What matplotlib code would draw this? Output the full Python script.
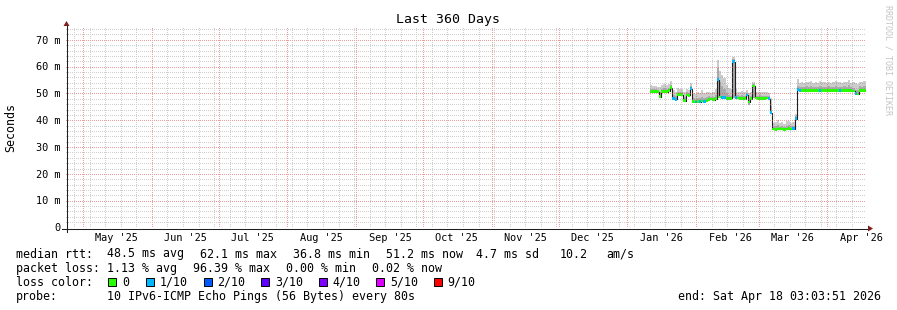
import numpy as np
import pandas as pd
import matplotlib
matplotlib.use("Agg")
import matplotlib.pyplot as plt
import matplotlib.dates as mdates
import matplotlib.transforms as mtrans
from matplotlib.lines import Line2D
from matplotlib.patches import Polygon, Rectangle

# ---------------- data ----------------
title = "Last 360 Days"
y_label = "Seconds"
watermark = "RRDTOOL / TOBI OETIKER"
end_time = pd.Timestamp("2026-04-18 03:03:51")
span_days = 360
first_day = pd.Timestamp("2026-01-11")

# daily median RTT (ms), Jan 11 .. Apr 17 2026
median_ms = [
    51.0, 51.0, 50.9, 50.8, 49.0, 50.9, 51.0, 50.9, 51.2, 52.3,
    48.4, 48.0, 49.8, 49.9, 49.7, 47.5, 49.6, 49.5, 52.0, 47.2,
    47.0, 47.3, 47.1, 47.4, 47.2, 47.6, 48.0, 48.1, 47.9, 48.2,
    55.3, 48.9, 48.6, 48.7, 48.3, 48.2, 48.4, 62.1, 48.6, 48.5,
    48.4, 48.4, 48.3, 49.6, 47.0, 48.3, 53.0, 48.5, 48.4, 48.4,
    48.3, 48.4, 48.5, 48.2, 43.0, 36.9, 36.8, 36.9, 37.0, 36.9,
    36.8, 36.9, 37.0, 36.9, 37.0, 40.8, 51.6, 51.4, 51.3, 51.4,
    51.3, 51.2, 51.3, 51.4, 51.3, 51.2, 51.3, 51.4, 51.3, 51.3,
    51.2, 51.3, 51.4, 51.3, 51.3, 51.2, 51.3, 51.4, 51.3, 51.2,
    51.3, 51.1, 50.2, 50.0, 51.3, 51.3, 51.2,
]
# highest ping of the day (outer smoke)
rtt_max = [
    53.2, 53.0, 52.8, 52.6, 52.5, 53.3, 53.6, 53.2, 53.8, 55.0,
    51.5, 50.8, 52.2, 52.0, 51.8, 50.6, 52.0, 51.6, 54.0, 50.2,
    50.0, 50.6, 50.4, 51.4, 50.3, 50.8, 50.9, 50.5, 50.7, 52.0,
    62.6, 58.5, 57.2, 56.0, 53.4, 52.2, 51.8, 63.8, 52.0, 50.9,
    50.8, 51.0, 50.7, 51.5, 50.3, 50.6, 54.3, 50.8, 50.6, 50.9,
    50.7, 50.8, 50.6, 50.4, 48.5, 39.2, 39.6, 40.1, 39.0, 39.4,
    38.8, 39.8, 40.0, 39.3, 39.5, 42.5, 55.6, 54.2, 54.5, 54.0,
    54.6, 54.3, 54.8, 54.1, 54.4, 54.2, 54.7, 54.3, 54.5, 54.0,
    54.6, 54.2, 54.4, 54.9, 54.3, 54.5, 54.1, 54.6, 54.3, 55.3,
    54.2, 54.5, 54.1, 53.8, 54.6, 54.4, 54.8,
]
# upper inner ping (darker smoke)
rtt_upper = [
    52.0, 51.9, 51.8, 51.5, 50.6, 51.9, 52.1, 52.0, 52.3, 53.4,
    49.6, 49.2, 50.8, 50.9, 50.6, 48.8, 50.6, 50.4, 52.9, 48.4,
    48.2, 48.6, 48.4, 49.0, 48.4, 48.8, 49.1, 49.0, 48.9, 49.6,
    59.5, 54.5, 53.0, 52.0, 50.2, 49.6, 49.4, 63.0, 50.0, 49.5,
    49.4, 49.6, 49.3, 50.4, 48.4, 49.2, 53.6, 49.4, 49.3, 49.5,
    49.3, 49.4, 49.3, 49.1, 45.5, 37.9, 38.1, 38.4, 37.8, 38.0,
    37.7, 38.2, 38.3, 37.9, 38.1, 41.6, 52.8, 52.6, 52.7, 52.5,
    52.8, 52.6, 52.9, 52.5, 52.7, 52.6, 52.8, 52.6, 52.7, 52.5,
    52.8, 52.6, 52.7, 52.9, 52.6, 52.7, 52.5, 52.8, 52.6, 53.2,
    52.6, 52.4, 51.6, 51.4, 52.8, 52.7, 52.8,
]
# lowest ping of the day
rtt_min = [
    50.6, 50.6, 50.5, 50.4, 48.6, 50.5, 50.6, 50.5, 50.8, 51.6,
    48.0, 47.6, 49.4, 49.5, 49.3, 47.0, 49.2, 49.1, 51.4, 46.8,
    46.6, 46.9, 46.7, 47.0, 46.8, 47.2, 47.6, 47.7, 47.5, 47.8,
    48.5, 48.4, 48.2, 48.3, 47.9, 47.8, 48.0, 48.5, 48.2, 48.1,
    48.0, 48.0, 47.9, 49.1, 45.9, 47.9, 48.6, 48.1, 48.0, 48.0,
    47.9, 48.0, 48.1, 47.8, 42.5, 36.5, 36.4, 36.5, 36.6, 36.5,
    36.4, 36.5, 36.6, 36.5, 36.6, 40.3, 51.2, 51.0, 50.9, 51.0,
    50.9, 50.8, 50.9, 51.0, 50.9, 50.8, 50.9, 51.0, 50.9, 50.9,
    50.8, 50.9, 51.0, 50.9, 50.9, 50.8, 50.9, 51.0, 50.9, 50.8,
    50.9, 50.7, 49.8, 49.6, 50.9, 50.9, 50.8,
]
# lost pings (of 10) per day -> loss colour index
lost_pings = [
    0, 0, 0, 0, 0, 0, 0, 0, 0, 0,
    1, 1, 0, 0, 0, 0, 0, 0, 1, 0,
    1, 0, 1, 0, 1, 0, 0, 0, 0, 0,
    1, 0, 1, 1, 0, 0, 0, 1, 1, 0,
    0, 0, 0, 1, 0, 0, 0, 0, 0, 0,
    0, 0, 0, 1, 1, 0, 0, 0, 0, 0,
    0, 0, 0, 0, 1, 1, 1, 1, 0, 0,
    0, 0, 0, 0, 0, 0, 1, 0, 0, 0,
    0, 0, 0, 0, 0, 1, 0, 0, 0, 0,
    0, 0, 1, 0, 0, 0, 0,
]

loss_labels = ["0", "1/10", "2/10", "3/10", "4/10", "5/10", "9/10"]
loss_colors = ["#26ff00", "#00b8ff", "#0059ff", "#5e00ff", "#7e00ff", "#dd00ff", "#ff0000"]

y_ticks = [0, 10, 20, 30, 40, 50, 60, 70]
y_tick_labels = ["0", "10 m", "20 m", "30 m", "40 m", "50 m", "60 m", "70 m"]
month_labels = ["May '25", "Jun '25", "Jul '25", "Aug '25", "Sep '25", "Oct '25",
                "Nov '25", "Dec '25", "Jan '26", "Feb '26", "Mar '26", "Apr '26"]

rtt_stats = ["48.5 ms avg", "62.1 ms max", "36.8 ms min", "51.2 ms now", "4.7 ms sd", "10.2", "am/s"]
loss_stats = ["1.13 % avg", "96.39 % max", "0.00 % min", "0.02 % now"]
probe_text = "10 IPv6-ICMP Echo Pings (56 Bytes) every 80s"
end_text = "end: Sat Apr 18 03:03:51 2026"

# ---------------- layout ----------------
W, H = 897, 310
MONO = "DejaVu Sans Mono"
X0, Y0, XS, YS = 66, 228, 800, 200   # plot origin & size in pixels
YMAX = 74.6

GRID_C = (0.56, 0.56, 0.56, 0.42)
MGRID_C = (0.87, 0.31, 0.31, 0.55)
AXIS_C = "#1f1f1f"
ARROW_C = "#801f1f"

def fx(px):
    return px / W

def fy(py):
    return 1 - py / H

fig = plt.figure(figsize=(W / 100, H / 100), dpi=100, facecolor="white")
ax = fig.add_axes([fx(X0), fy(Y0), XS / W, YS / H])
ax.set_facecolor("white")
for s in ax.spines.values():
    s.set_visible(False)

start_time = end_time - pd.Timedelta(days=span_days)
ax.set_xlim(mdates.date2num(start_time), mdates.date2num(end_time))
ax.set_ylim(0, YMAX)
ax.set_xticks([])
ax.set_yticks([])

# ---------------- data drawing ----------------
days = pd.date_range(first_day, periods=len(median_ms), freq="D")
xd = mdates.date2num(days)
med = np.array(median_ms)
mx = np.array(rtt_max)
up = np.array(rtt_upper)
mn = np.array(rtt_min)

ax.bar(xd, mx - mn, bottom=mn, width=1.0, align="edge", color="#cccccc",
       linewidth=0, antialiased=False, zorder=2)
ax.bar(xd, up - mn, bottom=mn, width=1.0, align="edge", color="#aaaaaa",
       linewidth=0, antialiased=False, zorder=2.1)

x_step = np.append(xd, xd[-1] + 1.0)
y_step = np.append(med, med[-1])
ax.plot(x_step, y_step, drawstyle="steps-post", color="#202020", lw=0.8, zorder=3)

band = 1.0
ax.bar(xd, band, bottom=med - band / 2, width=1.0, align="edge",
       color=[loss_colors[k] for k in lost_pings], linewidth=0,
       antialiased=False, zorder=4)

# ---------------- grid: pixel-exact 1-on/1-off dotted lines (rrdtool style) ----------------
sundays = mdates.date2num(pd.date_range(start_time.normalize(), end_time, freq="W-SUN"))
months = mdates.date2num(pd.date_range(start_time.normalize(), end_time, freq="MS"))
minor_y = np.arange(2, YMAX, 2)
major_y = np.array(y_ticks[1:], dtype=float)

grid_img = np.zeros((H, W, 4))
rows = np.arange(Y0 - YS, Y0)
cols = np.arange(X0, X0 + XS)

def col_of(xval):
    return int(np.floor(ax.transData.transform((xval, 0))[0]))

def row_of(yval):
    return int(np.floor(H - ax.transData.transform((0, yval))[1]))

def paint_v(c, color):
    rr = rows[rows % 2 == 0]
    grid_img[rr, c] = color

def paint_h(r, color):
    cc = cols[cols % 2 == 0]
    grid_img[r, cc] = color

for xv in sundays:
    c = col_of(xv)
    if X0 < c < X0 + XS:
        paint_v(c, GRID_C)
for yv in minor_y:
    paint_h(row_of(yv), GRID_C)
for xv in months:
    c = col_of(xv)
    if X0 < c < X0 + XS:
        paint_v(c, MGRID_C)
for yv in major_y:
    paint_h(row_of(yv), MGRID_C)

fig.figimage(grid_img, xo=0, yo=0, origin="upper", zorder=1)

# ---------------- axes lines & arrows ----------------
fig.add_artist(Line2D([fx(X0 - 4), fx(X0 + XS + 4)], [fy(Y0 + 0.5), fy(Y0 + 0.5)],
                      color=AXIS_C, lw=0.75, zorder=3))
fig.add_artist(Line2D([fx(X0 + 0.5), fx(X0 + 0.5)], [fy(Y0 + 4), fy(Y0 - YS - 4)],
                      color=AXIS_C, lw=0.75, zorder=3))
fig.add_artist(Polygon([(fx(X0 + XS + 2), fy(Y0 - 2.5)), (fx(X0 + XS + 2), fy(Y0 + 3.5)),
                        (fx(X0 + XS + 7), fy(Y0 + 0.5))], closed=True, color=ARROW_C,
                       lw=0, zorder=3))
fig.add_artist(Polygon([(fx(X0 - 2.5), fy(Y0 - YS - 2)), (fx(X0 + 3.5), fy(Y0 - YS - 2)),
                        (fx(X0 + 0.5), fy(Y0 - YS - 7))], closed=True, color=ARROW_C,
                       lw=0, zorder=3))

# ---------------- tick labels ----------------
ytr = ax.get_yaxis_transform()
xtr = ax.get_xaxis_transform()
ylab_tr = mtrans.offset_copy(ytr, fig=fig, x=-6, y=-3.3, units="dots")
for v, lab in zip(y_ticks, y_tick_labels):
    ax.text(0, v, lab, transform=ylab_tr, ha="right", va="baseline",
            family=MONO, fontsize=7.4, color="#000000")

mid_months = mdates.date2num(pd.date_range(start_time.normalize(), end_time, freq="MS")
                             + pd.Timedelta(days=15))
xlab_tr = mtrans.offset_copy(xtr, fig=fig, x=0, y=-13, units="dots")
for v, lab in zip(mid_months, month_labels):
    ax.text(v, 0, lab, transform=xlab_tr, ha="center", va="baseline",
            family=MONO, fontsize=7.4, color="#000000")

# ---------------- titles ----------------
fig.text(fx(447.5), fy(23.5), title, ha="center", va="baseline", family=MONO, fontsize=9.5)
fig.text(fx(10.5), fy(127.5), y_label, ha="center", va="center", rotation=90,
         family=MONO, fontsize=8.4)
fig.text(fx(887.5), fy(5), watermark, ha="center", va="top", rotation=270,
         family=MONO, fontsize=6, color="#c4c4c4")

# ---------------- legend ----------------
LFS = 8.4
lrows = [257.5, 271.7, 285.9, 300.1]
fig.text(fx(15.5), fy(lrows[0]), "median rtt:", family=MONO, fontsize=LFS, va="baseline")
for xp, t in zip([106.5, 199.5, 292.5, 385.5, 476, 559.5, 606], rtt_stats):
    fig.text(fx(xp), fy(lrows[0]), t, family=MONO, fontsize=LFS, va="baseline")

fig.text(fx(15.5), fy(lrows[1]), "packet loss:", family=MONO, fontsize=LFS, va="baseline")
for xp, t in zip([106.5, 192.5, 286, 372], loss_stats):
    fig.text(fx(xp), fy(lrows[1]), t, family=MONO, fontsize=LFS, va="baseline")

fig.text(fx(15.5), fy(lrows[2]), "loss color:", family=MONO, fontsize=LFS, va="baseline")
box_x = [108, 146, 203.5, 261, 318.5, 376, 433.5]
for bx, lab, col in zip(box_x, loss_labels, loss_colors):
    fig.add_artist(Rectangle((fx(bx), fy(286)), 8 / W, 8 / H, facecolor=col,
                             edgecolor="#000000", lw=0.7))
    fig.text(fx(bx + 14), fy(lrows[2]), lab, family=MONO, fontsize=LFS, va="baseline")

fig.text(fx(15.5), fy(lrows[3]), "probe:", family=MONO, fontsize=LFS, va="baseline")
fig.text(fx(106.5), fy(lrows[3]), probe_text, family=MONO, fontsize=LFS, va="baseline")
fig.text(fx(880.5), fy(lrows[3]), end_text, family=MONO, fontsize=LFS, va="baseline", ha="right")

fig.savefig("out.png", dpi=100, facecolor="white")
